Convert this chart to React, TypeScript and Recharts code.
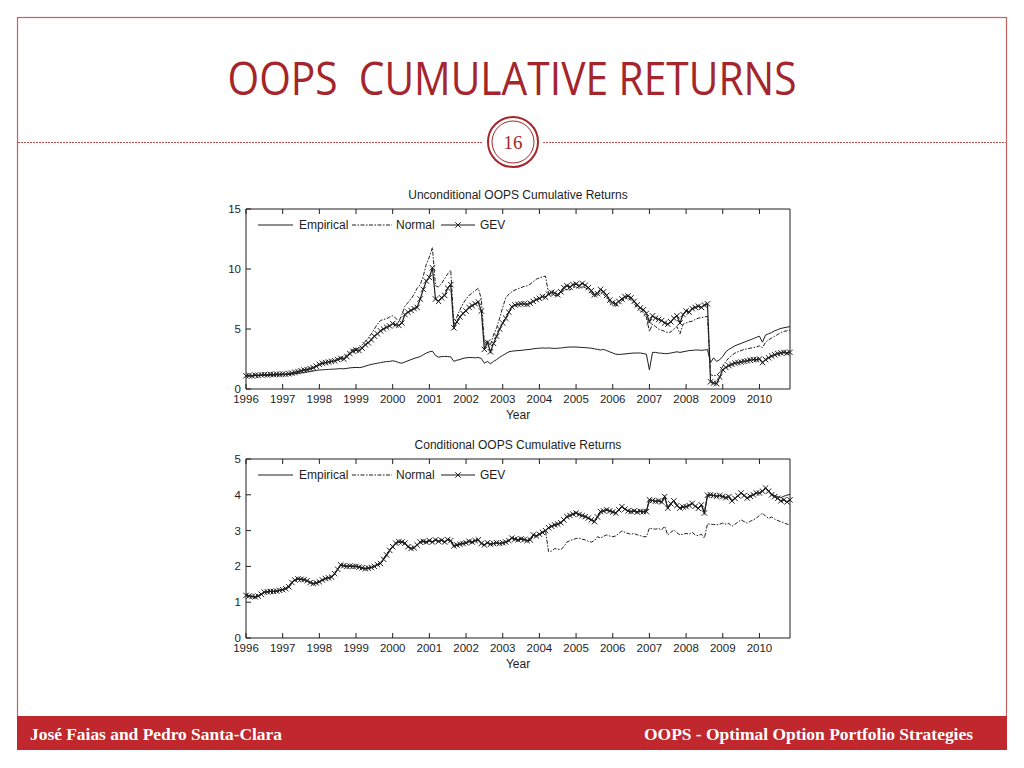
import React from 'react';
import { LineChart, Line, XAxis, YAxis } from 'recharts';

const FONT = '"Liberation Sans", Arial, sans-serif';
const INK = '#1e1e1e';
const RED = '#a4262c';
const DASH = '4 1.5 1.5 1.5';

const START_YEAR = 1996;
const yearTicks = [1996, 1997, 1998, 1999, 2000, 2001, 2002, 2003, 2004, 2005, 2006, 2007, 2008, 2009, 2010];
const topTicks = [0, 5, 10, 15];
const bottomTicks = [0, 1, 2, 3, 4, 5];
const seriesNames = ['Empirical', 'Normal', 'GEV'];

// monthly values, Jan 1996 .. Nov 2010
const topEmpirical = [
  1.10, 1.10, 1.11, 1.12, 1.12, 1.13, 1.14, 1.14, 1.15, 1.16, 1.16, 1.17,
  1.18, 1.20, 1.22, 1.24, 1.27, 1.30, 1.34, 1.38, 1.42, 1.46, 1.50, 1.55,
  1.58, 1.60, 1.62, 1.63, 1.65, 1.66, 1.68, 1.70, 1.68, 1.72, 1.76, 1.78,
  1.80, 1.78, 1.82, 1.90, 1.98, 2.05, 2.10, 2.15, 2.20, 2.25, 2.28, 2.30,
  2.35, 2.30, 2.20, 2.15, 2.25, 2.35, 2.45, 2.55, 2.62, 2.70, 2.85, 3.00,
  3.10, 3.15, 2.80, 2.65, 2.70, 2.72, 2.70, 2.68, 2.30, 2.40, 2.45, 2.55,
  2.60, 2.62, 2.62, 2.60, 2.62, 2.55, 2.15, 2.30, 2.10, 2.30, 2.45, 2.65,
  2.80, 2.95, 3.10, 3.15, 3.18, 3.20, 3.22, 3.25, 3.28, 3.30, 3.35, 3.38,
  3.40, 3.42, 3.40, 3.42, 3.40, 3.38, 3.40, 3.42, 3.45, 3.48, 3.50, 3.50,
  3.50, 3.48, 3.46, 3.45, 3.42, 3.40, 3.35, 3.30, 3.25, 3.30, 3.20, 3.10,
  3.00, 2.90, 2.88, 2.90, 2.92, 2.95, 2.98, 3.00, 3.00, 3.00, 2.95, 2.90,
  1.60, 3.05, 3.05, 3.00, 2.98, 2.95, 2.95, 3.00, 3.05, 3.10, 3.05, 3.10,
  3.15, 3.20, 3.22, 3.25, 3.25, 3.22, 3.25, 3.28, 2.20, 2.60, 2.30, 2.45,
  2.70, 3.10, 3.30, 3.45, 3.60, 3.70, 3.80, 3.90, 4.00, 4.10, 4.20, 4.30,
  4.40, 3.90, 4.50, 4.60, 4.70, 4.85, 4.95, 5.05, 5.10, 5.15, 5.20,
];

const topNormal = [
  1.10, 1.12, 1.10, 1.14, 1.13, 1.16, 1.18, 1.16, 1.20, 1.19, 1.22, 1.21,
  1.23, 1.22, 1.26, 1.30, 1.35, 1.42, 1.48, 1.55, 1.60, 1.68, 1.76, 1.88,
  2.00, 2.10, 2.15, 2.22, 2.30, 2.38, 2.50, 2.65, 2.60, 2.85, 3.10, 3.30,
  3.40, 3.40, 3.65, 3.95, 4.25, 4.60, 5.00, 5.40, 5.70, 5.80, 5.85, 6.00,
  6.10, 5.90, 5.60, 6.20, 6.90, 7.20, 7.50, 7.90, 8.40, 8.70, 9.40, 10.40,
  11.00, 11.80, 8.60, 8.50, 8.80, 9.20, 9.60, 9.90, 5.40, 6.00, 6.60, 7.10,
  7.50, 7.80, 8.00, 8.20, 8.40, 7.50, 3.80, 4.00, 3.70, 4.50, 5.10, 5.90,
  6.80, 7.60, 7.90, 8.10, 8.25, 8.35, 8.45, 8.55, 8.60, 8.75, 8.95, 9.15,
  9.25, 9.35, 9.40, 7.95, 7.85, 7.80, 7.75, 8.00, 8.20, 8.30, 8.25, 8.45,
  8.50, 8.40, 8.55, 8.45, 8.25, 8.00, 7.70, 7.80, 8.10, 7.90, 7.60, 7.20,
  7.00, 6.90, 7.10, 7.35, 7.55, 7.60, 7.40, 7.10, 6.80, 6.50, 6.40, 6.00,
  4.80, 5.40, 5.20, 5.00, 4.90, 4.80, 4.70, 4.75, 5.00, 5.20, 4.60, 5.40,
  5.50, 5.60, 5.65, 5.80, 5.90, 5.95, 6.00, 6.05, 1.20, 1.10, 1.15, 1.40,
  1.90, 2.30, 2.60, 2.80, 3.00, 3.10, 3.20, 3.30, 3.35, 3.40, 3.45, 3.50,
  3.60, 3.45, 3.90, 4.10, 4.25, 4.40, 4.55, 4.70, 4.80, 4.85, 4.90,
];

const topGev = [
  1.10, 1.12, 1.10, 1.15, 1.13, 1.18, 1.20, 1.17, 1.22, 1.20, 1.24, 1.22,
  1.25, 1.23, 1.28, 1.32, 1.38, 1.45, 1.52, 1.58, 1.62, 1.70, 1.78, 1.90,
  2.05, 2.15, 2.20, 2.25, 2.30, 2.35, 2.45, 2.55, 2.50, 2.70, 2.95, 3.15,
  3.25, 3.20, 3.40, 3.70, 3.85, 4.10, 4.40, 4.60, 4.85, 5.00, 5.15, 5.25,
  5.45, 5.35, 5.30, 5.50, 6.20, 6.40, 6.55, 6.70, 6.80, 7.50, 8.30, 9.00,
  9.30, 10.10, 7.50, 7.30, 7.60, 7.80, 8.40, 8.70, 5.10, 5.60, 6.00, 6.30,
  6.50, 6.80, 6.95, 7.10, 7.25, 6.50, 3.30, 3.90, 3.10, 3.80, 4.40, 5.00,
  5.50, 5.90, 6.40, 6.85, 7.00, 7.05, 7.10, 7.10, 7.05, 7.15, 7.30, 7.45,
  7.55, 7.70, 7.65, 7.90, 8.05, 8.00, 7.85, 8.10, 8.45, 8.60, 8.50, 8.70,
  8.75, 8.60, 8.80, 8.65, 8.45, 8.20, 7.85, 7.95, 8.30, 8.10, 7.80, 7.40,
  7.20, 7.10, 7.30, 7.50, 7.70, 7.75, 7.60, 7.30, 7.00, 6.75, 6.60, 6.30,
  5.60, 6.10, 5.90, 5.80, 5.70, 5.50, 5.40, 5.60, 5.90, 6.10, 5.50, 6.20,
  6.50, 6.40, 6.70, 6.80, 6.90, 6.80, 7.00, 7.10, 0.60, 0.50, 0.45, 1.00,
  1.60, 1.80, 1.95, 2.05, 2.15, 2.20, 2.25, 2.30, 2.35, 2.40, 2.45, 2.45,
  2.50, 2.20, 2.45, 2.60, 2.75, 2.85, 2.95, 3.00, 3.05, 3.00, 3.05,
];

const bottomEmpirical = [
  1.19, 1.17, 1.16, 1.15, 1.17, 1.22, 1.28, 1.29, 1.30, 1.30, 1.31, 1.33,
  1.35, 1.38, 1.43, 1.55, 1.62, 1.65, 1.64, 1.63, 1.60, 1.55, 1.52, 1.54,
  1.57, 1.62, 1.66, 1.68, 1.70, 1.80, 1.92, 2.04, 2.02, 2.00, 2.01, 2.00,
  2.00, 1.98, 1.96, 1.94, 1.95, 1.97, 2.00, 2.05, 2.08, 2.20, 2.32, 2.45,
  2.55, 2.65, 2.69, 2.68, 2.65, 2.55, 2.50, 2.52, 2.60, 2.68, 2.70, 2.68,
  2.72, 2.68, 2.74, 2.70, 2.73, 2.68, 2.75, 2.72, 2.57, 2.60, 2.62, 2.64,
  2.66, 2.70, 2.68, 2.72, 2.74, 2.64, 2.60, 2.66, 2.62, 2.64, 2.66, 2.64,
  2.66, 2.68, 2.72, 2.79, 2.76, 2.74, 2.77, 2.75, 2.72, 2.74, 2.88, 2.85,
  2.90, 2.95, 3.00, 3.08, 3.12, 3.16, 3.18, 3.22, 3.30, 3.39, 3.42, 3.46,
  3.49, 3.45, 3.42, 3.39, 3.35, 3.30, 3.25, 3.38, 3.53, 3.55, 3.58, 3.55,
  3.52, 3.49, 3.58, 3.67, 3.60, 3.55, 3.53, 3.55, 3.52, 3.54, 3.53, 3.53,
  3.86, 3.84, 3.82, 3.83, 3.80, 3.95, 3.63, 3.75, 3.83, 3.70, 3.63, 3.66,
  3.67, 3.70, 3.76, 3.68, 3.62, 3.72, 3.49, 3.99, 4.00, 3.98, 3.96, 3.98,
  3.95, 3.92, 3.95, 3.83, 3.90, 3.97, 4.05, 3.98, 3.91, 3.96, 4.00, 4.05,
  4.05, 4.10, 4.19, 4.10, 4.02, 3.98, 3.95, 3.92, 3.96, 3.99, 4.01,
];

const bottomNormal = [
  1.19, 1.17, 1.16, 1.15, 1.17, 1.22, 1.28, 1.29, 1.30, 1.30, 1.31, 1.33,
  1.35, 1.38, 1.43, 1.55, 1.62, 1.65, 1.64, 1.63, 1.60, 1.55, 1.52, 1.54,
  1.57, 1.62, 1.66, 1.68, 1.70, 1.80, 1.92, 2.04, 2.02, 2.00, 2.01, 2.00,
  2.00, 1.98, 1.96, 1.94, 1.95, 1.97, 2.00, 2.05, 2.08, 2.20, 2.32, 2.45,
  2.55, 2.65, 2.69, 2.68, 2.65, 2.55, 2.50, 2.52, 2.60, 2.68, 2.70, 2.68,
  2.72, 2.68, 2.74, 2.70, 2.73, 2.68, 2.75, 2.72, 2.57, 2.60, 2.62, 2.64,
  2.66, 2.70, 2.68, 2.72, 2.74, 2.64, 2.60, 2.66, 2.62, 2.64, 2.66, 2.64,
  2.66, 2.68, 2.72, 2.79, 2.76, 2.74, 2.77, 2.75, 2.72, 2.74, 2.88, 2.85,
  2.90, 2.95, 3.00, 2.41, 2.43, 2.50, 2.48, 2.47, 2.55, 2.68, 2.72, 2.75,
  2.78, 2.79, 2.76, 2.74, 2.70, 2.68, 2.72, 2.83, 2.79, 2.84, 2.88, 2.85,
  2.83, 2.85, 2.92, 2.99, 2.95, 2.92, 2.90, 2.92, 2.88, 2.86, 2.83, 2.83,
  3.07, 3.05, 3.04, 3.06, 3.02, 3.12, 2.88, 2.95, 3.02, 2.94, 2.88, 2.90,
  2.92, 2.90, 2.95, 2.88, 2.86, 2.90, 2.79, 3.19, 3.18, 3.17, 3.16, 3.18,
  3.21, 3.18, 3.20, 3.12, 3.18, 3.24, 3.30, 3.25, 3.21, 3.26, 3.30, 3.35,
  3.42, 3.49, 3.40, 3.34, 3.38, 3.32, 3.28, 3.25, 3.22, 3.18, 3.17,
];

const bottomGev = [
  1.19, 1.17, 1.16, 1.15, 1.17, 1.22, 1.28, 1.29, 1.30, 1.30, 1.31, 1.33,
  1.35, 1.38, 1.43, 1.55, 1.62, 1.65, 1.64, 1.63, 1.60, 1.55, 1.52, 1.54,
  1.57, 1.62, 1.66, 1.68, 1.70, 1.80, 1.92, 2.04, 2.02, 2.00, 2.01, 2.00,
  2.00, 1.98, 1.96, 1.94, 1.95, 1.97, 2.00, 2.05, 2.08, 2.20, 2.32, 2.45,
  2.55, 2.65, 2.69, 2.68, 2.65, 2.55, 2.50, 2.52, 2.60, 2.68, 2.70, 2.68,
  2.72, 2.68, 2.74, 2.70, 2.73, 2.68, 2.75, 2.72, 2.57, 2.60, 2.62, 2.64,
  2.66, 2.70, 2.68, 2.72, 2.74, 2.64, 2.60, 2.66, 2.62, 2.64, 2.66, 2.64,
  2.66, 2.68, 2.72, 2.79, 2.76, 2.74, 2.77, 2.75, 2.72, 2.74, 2.88, 2.85,
  2.90, 2.95, 3.00, 3.08, 3.12, 3.16, 3.18, 3.22, 3.30, 3.39, 3.42, 3.46,
  3.49, 3.45, 3.42, 3.39, 3.35, 3.30, 3.25, 3.38, 3.53, 3.55, 3.58, 3.55,
  3.52, 3.49, 3.58, 3.67, 3.60, 3.55, 3.53, 3.55, 3.52, 3.54, 3.53, 3.53,
  3.86, 3.84, 3.82, 3.83, 3.80, 3.95, 3.63, 3.75, 3.83, 3.70, 3.63, 3.66,
  3.67, 3.70, 3.76, 3.68, 3.62, 3.72, 3.49, 3.99, 4.00, 3.98, 3.96, 3.98,
  3.95, 3.92, 3.95, 3.83, 3.90, 3.97, 4.05, 3.98, 3.91, 3.96, 4.00, 4.05,
  4.05, 4.10, 4.19, 4.10, 4.00, 3.95, 3.90, 3.83, 3.86, 3.80, 3.86,
];

const toRows = (emp: number[], norm: number[], gev: number[]) =>
  emp.map((v, i) => ({ year: START_YEAR + i / 12, empirical: v, normal: norm[i], gev: gev[i] }));

const topData = toRows(topEmpirical, topNormal, topGev);
const bottomData = toRows(bottomEmpirical, bottomNormal, bottomGev);

const Cross = (props: any) => {
  const { cx, cy, index } = props;
  if (cx == null || cy == null) return <g key={index} />;
  const r = 2.7;
  return (
    <path
      key={index}
      d={`M${cx - r},${cy - r}L${cx + r},${cy + r}M${cx - r},${cy + r}L${cx + r},${cy - r}`}
      stroke={INK}
      strokeWidth={1}
      fill="none"
    />
  );
};

const tickStyle = { fill: INK, fontSize: 11.5, fontFamily: FONT };

// legend drawn inside the plot box, like the MATLAB figure
const LegendOverlay = ({ top }: { top: number }) => (
  <svg style={{ position: 'absolute', left: 250, top, overflow: 'visible' }} width={270} height={16}>
    <g fontFamily={FONT} fontSize={12} fill={INK}>
      <line x1={8} y1={7} x2={43} y2={7} stroke={INK} strokeWidth={1} />
      <text x={49} y={11}>{seriesNames[0]}</text>
      <line x1={102} y1={7} x2={142} y2={7} stroke={INK} strokeWidth={1} strokeDasharray={DASH} />
      <text x={146} y={11}>{seriesNames[1]}</text>
      <line x1={191} y1={7} x2={225} y2={7} stroke={INK} strokeWidth={1.2} />
      <path d="M205.3,4.3L210.7,9.7M205.3,9.7L210.7,4.3" stroke={INK} strokeWidth={1} />
      <text x={230} y={11}>{seriesNames[2]}</text>
    </g>
  </svg>
);

const Panel = ({ data, title, top, yMax, yTicks, mb }: any) => (
  <>
    <div
      style={{
        position: 'absolute', left: 246, top: top + 8, width: 544, textAlign: 'center',
        fontFamily: FONT, fontSize: 12, color: INK,
      }}
    >
      {title}
    </div>
    <div style={{ position: 'absolute', left: 200, top }}>
      <LineChart width={620} height={250} data={data} margin={{ top: 28, right: 29, bottom: mb, left: 16 }}>
        <XAxis
          dataKey="year" type="number" domain={[1996, 'dataMax']} ticks={yearTicks}
          tick={tickStyle} tickSize={-5} tickMargin={11} height={30}
          stroke={INK} interval={0}
          label={{ value: 'Year', position: 'insideBottom', offset: 0, fill: INK, fontSize: 12, fontFamily: FONT }}
        />
        <XAxis
          xAxisId="top" orientation="top" dataKey="year" type="number" domain={[1996, 'dataMax']}
          ticks={yearTicks} tickFormatter={() => ''} tickSize={-5} height={1} stroke={INK} interval={0}
        />
        <YAxis
          domain={[0, yMax]} ticks={yTicks} tick={tickStyle} tickSize={-5} tickMargin={10}
          width={30} stroke={INK} interval={0}
        />
        <YAxis
          yAxisId="right" orientation="right" domain={[0, yMax]} ticks={yTicks}
          tickFormatter={() => ''} tickSize={-5} width={1} stroke={INK} interval={0}
        />
        <Line dataKey="empirical" stroke={INK} strokeWidth={1} dot={false} activeDot={false} isAnimationActive={false} />
        <Line dataKey="normal" stroke={INK} strokeWidth={1} strokeDasharray={DASH} dot={false} activeDot={false} isAnimationActive={false} />
        <Line dataKey="gev" stroke={INK} strokeWidth={1.2} dot={Cross} activeDot={false} isAnimationActive={false} />
      </LineChart>
    </div>
    <LegendOverlay top={top + 38} />
  </>
);

export default function App() {
  return (
    <div style={{ position: 'absolute', left: 0, top: 0, width: 1024, height: 768, background: '#fff' }}>
      <svg style={{ position: 'absolute', left: 0, top: 0 }} width={1024} height={768}>
        <rect x={17.5} y={17.5} width={989} height={700} fill="none" stroke="#c8605f" strokeWidth={1.2} />
        <line x1={18} y1={142.5} x2={483} y2={142.5} stroke="#c0504d" strokeWidth={1} strokeDasharray="2 1" />
        <line x1={543} y1={142.5} x2={1006} y2={142.5} stroke="#c0504d" strokeWidth={1} strokeDasharray="2 1" />
        <circle cx={513} cy={142} r={25} fill="#fff" stroke={RED} strokeWidth={2} />
        <circle cx={513} cy={142} r={21} fill="none" stroke={RED} strokeWidth={1} />
        <text x={513} y={149} textAnchor="middle" fontFamily='"Liberation Serif", serif' fontSize={19} fill={RED}>16</text>
        <text
          x={512} y={95} textAnchor="middle" fontFamily='"Open Sans", sans-serif' fontSize={46} fill={RED}
          textLength={569} lengthAdjust="spacingAndGlyphs" style={{ whiteSpace: 'pre' }}
        >
          OOPS  CUMULATIVE RETURNS
        </text>
        <rect x={17} y={716} width={990} height={34} fill="#c0282d" />
        <g fontFamily='"Liberation Serif", serif' fontWeight="bold" fontSize={16} fill="#fff">
          <text x={30} y={740} textLength={252} lengthAdjust="spacingAndGlyphs">José Faias and Pedro Santa-Clara</text>
          <text x={644} y={740} textLength={329} lengthAdjust="spacingAndGlyphs">OOPS - Optimal Option Portfolio Strategies</text>
        </g>
      </svg>
      <Panel data={topData} title="Unconditional OOPS Cumulative Returns" top={180} yMax={15} yTicks={topTicks} mb={11} />
      <Panel data={bottomData} title="Conditional OOPS Cumulative Returns" top={430} yMax={5} yTicks={bottomTicks} mb={12} />
    </div>
  );
}
